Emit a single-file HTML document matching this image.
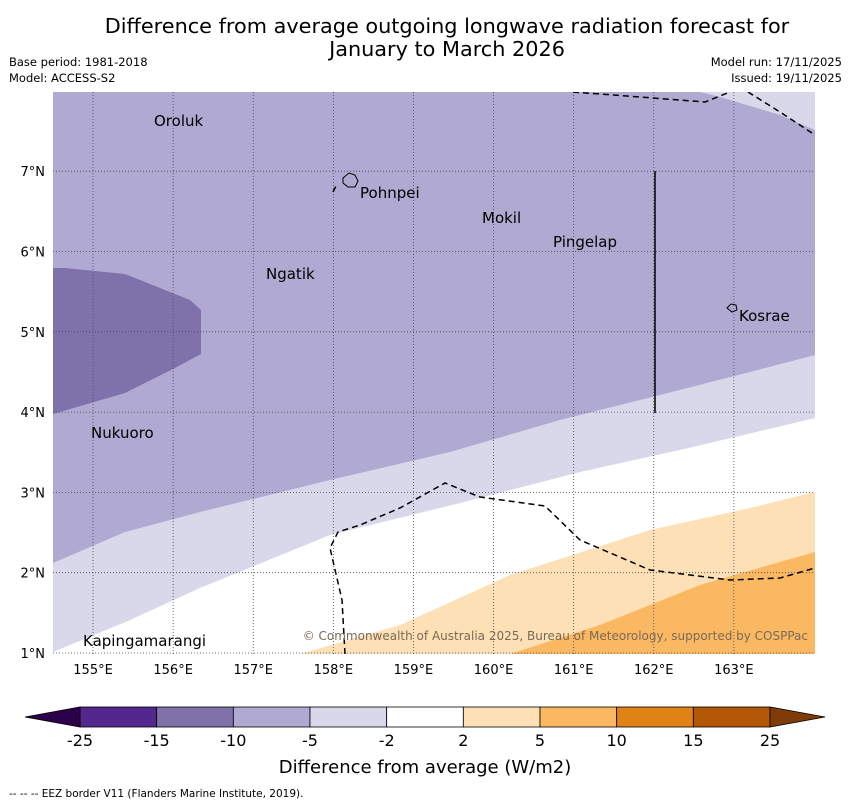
<!DOCTYPE html>
<html><head><meta charset="utf-8">
<style>
body{margin:0;background:#fff;width:850px;height:804px;overflow:hidden;font-family:"DejaVu Sans","Liberation Sans",sans-serif;}
svg{display:block}
</style></head>
<body>
<svg id="chart" width="850" height="804" xmlns="http://www.w3.org/2000/svg" font-family="DejaVu Sans, Liberation Sans, sans-serif">
  <text x="447" y="33" font-size="20.8" text-anchor="middle">Difference from average outgoing longwave radiation forecast for</text>
  <text x="447" y="56" font-size="20.8" text-anchor="middle">January to March 2026</text>
  <text x="9" y="66" font-size="11.5">Base period: 1981-2018</text>
  <text x="9" y="82" font-size="11.5">Model: ACCESS-S2</text>
  <text x="842" y="66" font-size="11.5" text-anchor="end">Model run: 17/11/2025</text>
  <text x="842" y="82" font-size="11.5" text-anchor="end">Issued: 19/11/2025</text>

  <g id="map">
    <clipPath id="mc"><rect x="53" y="92" width="762" height="562"/></clipPath>
    <g clip-path="url(#mc)">
      <rect x="53" y="92" width="762" height="562" fill="#b0a9d1"/>
      <polygon points="53,268 65,268 125,274 190,300 201,310 201,354 175,368 125,393 53,414" fill="#7f72ab"/>
      <polygon points="700,92 815,92 815,130 780,115 720,97" fill="#d8d8ea"/>
      <polygon points="53,563 125,532 200,512 330,480 450,452 560,420 660,395 750,372 815,355 815,654 53,654" fill="#d8d8ea"/>
      <polygon points="53,654 53,652 130,620 200,588 330,535 460,503 580,472 680,450 815,418 815,654" fill="#ffffff"/>
      <polygon points="300,654 400,625 510,575 650,530 750,508 815,492 815,654" fill="#fde0b6"/>
      <polygon points="510,654 600,625 700,585 780,562 815,552 815,654" fill="#fbb862"/>
      <g id="grid" stroke="#445" stroke-width="0.8" stroke-dasharray="1,2" fill="none"></g>
      <g fill="none" stroke="#000" stroke-width="1.5" stroke-dasharray="6,4">
        <polyline points="573,92 640,97 705,102 730,92"/>
        <polyline points="748,92 780,112 815,135"/>
        <polyline points="345,654 342,600 330,548 338,532 360,525 400,508 445,483 480,497 545,506 580,540 650,570 730,580 780,578 815,568"/>
        <polyline points="333,192 336,186"/>
      </g>
      <line x1="655" y1="171" x2="655" y2="413" stroke="#000" stroke-width="1.5"/>
      <path d="M343,178 l6,-5 6,2 3,6 -3,6 -7,0 -5,-4z" fill="none" stroke="#000" stroke-width="1"/>
      <path d="M727,308 l4,-4 5,1 1,5 -5,2z" fill="none" stroke="#000" stroke-width="1"/>
      <g font-size="15" fill="#000">
        <text x="154" y="126">Oroluk</text>
        <text x="360" y="198">Pohnpei</text>
        <text x="482" y="223">Mokil</text>
        <text x="553" y="247">Pingelap</text>
        <text x="266" y="279">Ngatik</text>
        <text x="739" y="321">Kosrae</text>
        <text x="91" y="438">Nukuoro</text>
        <text x="83" y="646">Kapingamarangi</text>
      </g>
      <text x="808" y="640" font-size="12" fill="#7a6a55" text-anchor="end">© Commonwealth of Australia 2025, Bureau of Meteorology, supported by COSPPac</text>
    </g>
    <g id="axes" font-size="13"></g>
  </g>

  <g id="cbar"></g>
  <text x="425" y="773" font-size="18" text-anchor="middle">Difference from average (W/m2)</text>
  <text x="9" y="797" font-size="10.5">--  --  -- EEZ border V11 (Flanders Marine Institute, 2019).</text>
</svg>
<script>
const lonTicks = [155,156,157,158,159,160,161,162,163];
const latTicks = [1,2,3,4,5,6,7];
const levelLabels = ["-25","-15","-10","-5","-2","2","5","10","15","25"];
const levelColors = ["#54278f","#7f72ab","#b0a9d1","#d8d8ea","#ffffff","#fde0b6","#fbb862","#e08214","#b35806"];
const extendColors = ["#2d004b","#7f3b08"];

const NS="http://www.w3.org/2000/svg";
const X0=53, LON0=154.5, PXLON=80.1;
const Y1=653, PXLAT=80.3;
function xs(lon){return X0+(lon-LON0)*PXLON;}
function ys(lat){return Y1-(lat-1)*PXLAT;}
function mk(tag,attrs,parent){const e=document.createElementNS(NS,tag);for(const k in attrs)e.setAttribute(k,attrs[k]);parent.appendChild(e);return e;}

const grid=document.getElementById('grid');
const axes=document.getElementById('axes');
lonTicks.forEach(l=>{
  const ln=mk('line',{x1:xs(l),x2:xs(l),y1:92,y2:654},grid);
  
  
  const t=mk('text',{x:xs(l),y:674,'text-anchor':'middle'},axes);
  t.textContent=l+'°E';
  
  
});
latTicks.forEach(l=>{
  const ln=mk('line',{x1:53,x2:815,y1:ys(l),y2:ys(l)},grid);
  
  
  const t=mk('text',{x:45,y:ys(l)+5,'text-anchor':'end'},axes);
  t.textContent=l+'°N';
  
  
});

const cb=document.getElementById('cbar');
const CX0=80, CX1=770, CY=707, CH=20;
const segW=(CX1-CX0)/levelColors.length;
levelColors.forEach((c,i)=>{
  const r=mk('rect',{x:CX0+i*segW,y:CY,width:segW,height:CH,fill:c,stroke:'#000','stroke-width':0.8},cb);
  
  
});
const tl=mk('polygon',{points:`${CX0},${CY} ${CX0},${CY+CH} 25,${CY+CH/2}`,fill:extendColors[0],stroke:'#000','stroke-width':0.8},cb);


const tr=mk('polygon',{points:`${CX1},${CY} ${CX1},${CY+CH} 825,${CY+CH/2}`,fill:extendColors[1],stroke:'#000','stroke-width':0.8},cb);


levelLabels.forEach((s,i)=>{
  const t=mk('text',{x:CX0+i*segW,y:746,'text-anchor':'middle','font-size':16},cb);
  t.textContent=s;
  
  
});
</script>
</body></html>
